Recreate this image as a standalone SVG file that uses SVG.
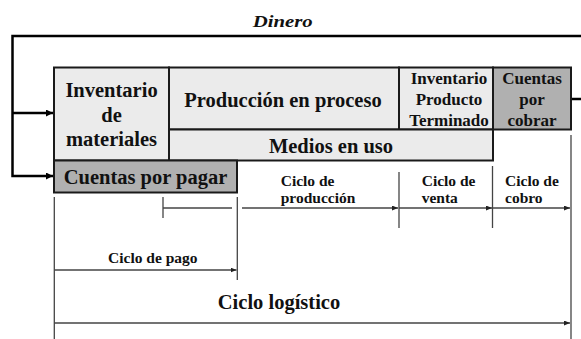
<svg xmlns="http://www.w3.org/2000/svg" width="581" height="339" viewBox="0 0 581 339">
<style>
  .box-light { fill: #ebebeb; stroke: #1a1a1a; stroke-width: 2; }
  .box-dark { fill: #b0b0b0; stroke: #1a1a1a; stroke-width: 2; }
  .big { font-family: "Liberation Serif", "Times New Roman", serif; font-weight: bold; font-size: 20.5px; fill: #111; text-anchor: middle; }
  .mid { font-family: "Liberation Serif", "Times New Roman", serif; font-weight: bold; font-size: 17px; fill: #111; text-anchor: middle; }
  .small { font-family: "Liberation Serif", "Times New Roman", serif; font-weight: bold; font-size: 15.5px; fill: #111; }
  .thick { fill: none; stroke: #000; stroke-width: 2.5; }
  .thin { fill: none; stroke: #444; stroke-width: 1.3; }
</style>
<defs>
  <marker id="arrowThick" markerUnits="userSpaceOnUse" markerWidth="8" markerHeight="7" refX="7" refY="3.5" orient="auto">
    <path d="M0,0 L7,3.5 L0,7 z" fill="#000"/>
  </marker>
  <marker id="arrowThin" markerUnits="userSpaceOnUse" markerWidth="6" markerHeight="5" refX="6" refY="2.5" orient="auto">
    <path d="M0,0 L6,2.5 L0,5 z" fill="#222"/>
  </marker>
</defs>

<rect width="581" height="339" fill="#fff"/>

<g id="connectors">
  <!-- Dinero loop -->
  <polyline class="thick" points="581,36 12.5,36 12.5,176 53,176" marker-end="url(#arrowThick)"/>
  <line class="thick" x1="12.5" y1="113" x2="53" y2="113" marker-end="url(#arrowThick)"/>
  <line class="thick" x1="571" y1="99" x2="581" y2="99"/>
  <!-- cycle scale lines -->
  <line class="thin" x1="54.3" y1="197" x2="54.3" y2="339"/>
  <line class="thin" x1="163" y1="197" x2="163" y2="218"/>
  <line class="thin" x1="163" y1="208" x2="232" y2="208"/>
  <line class="thin" x1="237.3" y1="197" x2="237.3" y2="280"/>
  <line class="thin" x1="242" y1="208" x2="398" y2="208" marker-end="url(#arrowThin)"/>
  <line class="thin" x1="399" y1="172" x2="399" y2="228"/>
  <line class="thin" x1="399" y1="208" x2="492" y2="208" marker-end="url(#arrowThin)"/>
  <line class="thin" x1="492.5" y1="166" x2="492.5" y2="228"/>
  <line class="thin" x1="493" y1="208" x2="570" y2="208" marker-end="url(#arrowThin)"/>
  <line class="thin" x1="571" y1="135" x2="571" y2="339"/>
  <line class="thin" x1="54.3" y1="270" x2="236.5" y2="270" marker-end="url(#arrowThin)"/>
  <line class="thin" x1="54.3" y1="323" x2="570" y2="323" marker-end="url(#arrowThin)"/>
</g>

<g id="node-inventario-materiales">
  <rect class="box-light" x="54" y="67.5" width="115" height="93"/>
  <text class="big" x="111.5" y="97">Inventario</text>
  <text class="big" x="111.5" y="122">de</text>
  <text class="big" x="111.5" y="146">materiales</text>
</g>
<g id="node-produccion">
  <rect class="box-light" x="169" y="67.5" width="230" height="62"/>
  <text class="big" x="283" y="106.5">Producción en proceso</text>
</g>
<g id="node-inventario-pt">
  <rect class="box-light" x="399" y="67.5" width="94" height="62"/>
  <text class="mid" x="449" y="83.5">Inventario</text>
  <text class="mid" x="449" y="104.5">Producto</text>
  <text class="mid" x="449" y="125.5">Terminado</text>
</g>
<g id="node-cuentas-cobrar">
  <rect class="box-dark" x="493" y="67.5" width="78" height="62"/>
  <text class="mid" x="532" y="83.5">Cuentas</text>
  <text class="mid" x="532" y="104.5">por</text>
  <text class="mid" x="532" y="125.5">cobrar</text>
</g>
<g id="node-medios">
  <rect class="box-light" x="169" y="129.5" width="324" height="31"/>
  <text class="big" x="331" y="153">Medios en uso</text>
</g>
<g id="node-cuentas-pagar">
  <rect class="box-dark" x="54" y="160.5" width="183" height="32"/>
  <text class="big" x="145.5" y="184">Cuentas por pagar</text>
</g>

<g id="labels">
  <text x="282.7" y="27.3" font-family="'Liberation Serif', 'Times New Roman', serif" font-weight="bold" font-style="italic" font-size="17.5" text-anchor="middle" textLength="60" lengthAdjust="spacingAndGlyphs" fill="#111">Dinero</text>
  <text class="small" x="280.7" y="186">Ciclo de</text>
  <text class="small" x="280.7" y="202.5">producción</text>
  <text class="small" x="421.7" y="186">Ciclo de</text>
  <text class="small" x="421.7" y="202.5">venta</text>
  <text class="small" x="505" y="186">Ciclo de</text>
  <text class="small" x="505" y="202.5">cobro</text>
  <text class="small" x="152.8" y="262.5" text-anchor="middle">Ciclo de pago</text>
  <text class="big" x="279" y="309">Ciclo logístico</text>
</g>
</svg>
